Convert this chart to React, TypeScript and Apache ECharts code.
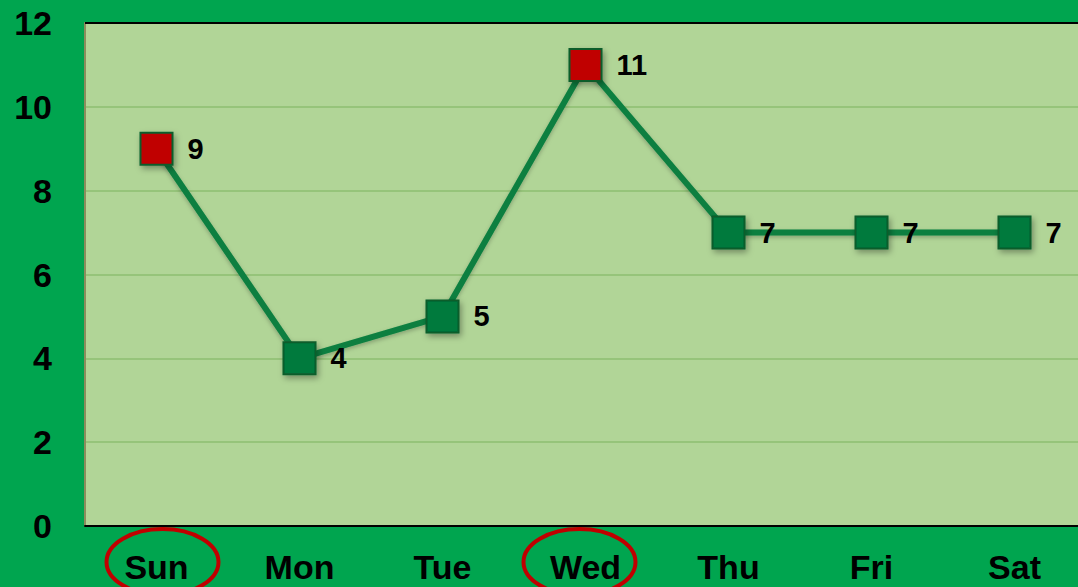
import React, { useEffect, useRef } from "react";
import * as echarts from "echarts";

const days = ["Sun", "Mon", "Tue", "Wed", "Thu", "Fri", "Sat"];
const values = [9, 4, 5, 11, 7, 7, 7];
const highlighted = ["Sun", "Wed"];
const yTicks = { min: 0, max: 12, interval: 2 };

export default function App() {
  const ref = useRef<HTMLDivElement>(null);
  useEffect(() => {
    document.body.style.margin = "0";
    const chart = echarts.init(ref.current!, null, { renderer: "svg" });
    const font = "'Liberation Sans', Arial, sans-serif";
    chart.setOption({
      animation: false,
      backgroundColor: "#00a54f",
      grid: {
        left: 85,
        width: 1001,
        top: 23,
        bottom: 61,
        outerBoundsMode: "none",
        containLabel: false,
        show: true,
        backgroundColor: "#b1d597",
        borderWidth: 0,
      },
      xAxis: {
        type: "category",
        data: days,
        boundaryGap: true,
        axisLine: { show: true, lineStyle: { color: "#000", width: 2 } },
        axisTick: { show: false },
        axisLabel: {
          color: "#000",
          fontWeight: "bold",
          fontSize: 34,
          fontFamily: font,
          margin: 24,
        },
      },
      yAxis: {
        type: "value",
        min: yTicks.min,
        max: yTicks.max,
        interval: yTicks.interval,
        axisLine: { show: true, lineStyle: { color: "#8c8c5c", width: 2 } },
        axisTick: { show: false },
        splitLine: { show: true, lineStyle: { color: "#96c47a", width: 2 } },
        axisLabel: {
          color: "#000",
          fontWeight: "bold",
          fontSize: 34,
          fontFamily: font,
          margin: 33,
        },
      },
      series: [
        {
          type: "line",
          data: values.map((v, i) => ({
            value: v,
            itemStyle: {
              color: highlighted.includes(days[i]) ? "#c00000" : "#007a3d",
            },
          })),
          symbol: "rect",
          symbolSize: 32,
          lineStyle: {
            color: "#0a7f3f",
            width: 6,
            shadowColor: "rgba(0,0,0,0.25)",
            shadowBlur: 4,
            shadowOffsetY: 2,
          },
          itemStyle: {
            borderColor: "#0b5d2c",
            borderWidth: 2,
            shadowColor: "rgba(0,0,0,0.35)",
            shadowBlur: 6,
            shadowOffsetX: 2,
            shadowOffsetY: 3,
          },
          label: {
            show: true,
            position: "right",
            distance: 14,
            color: "#000",
            fontWeight: "bold",
            fontSize: 29,
            fontFamily: font,
          },
          z: 3,
        },
      ],
    });
    const shifts = [6, -6];
    const ellipses = highlighted.map((d, i) => {
      const px: any = chart.convertToPixel({ xAxisIndex: 0 }, d);
      const cx = typeof px === "number" ? px : px[0];
      return {
        type: "ellipse",
        shape: { cx: cx + shifts[i], cy: 562, rx: 56, ry: 33 },
        style: { fill: "none", stroke: "#c00000", lineWidth: 4 },
        z: 10,
      };
    });
    chart.setOption({
      graphic: [
        {
          type: "line",
          shape: { x1: 85, y1: 23, x2: 1078, y2: 23 },
          style: { stroke: "#000", lineWidth: 2 },
          z: 5,
        },
        ...ellipses,
      ],
    });
    return () => chart.dispose();
  }, []);
  return (
    <div
      ref={ref}
      style={{ position: "fixed", left: 0, top: 0, width: 1078, height: 587 }}
    />
  );
}
